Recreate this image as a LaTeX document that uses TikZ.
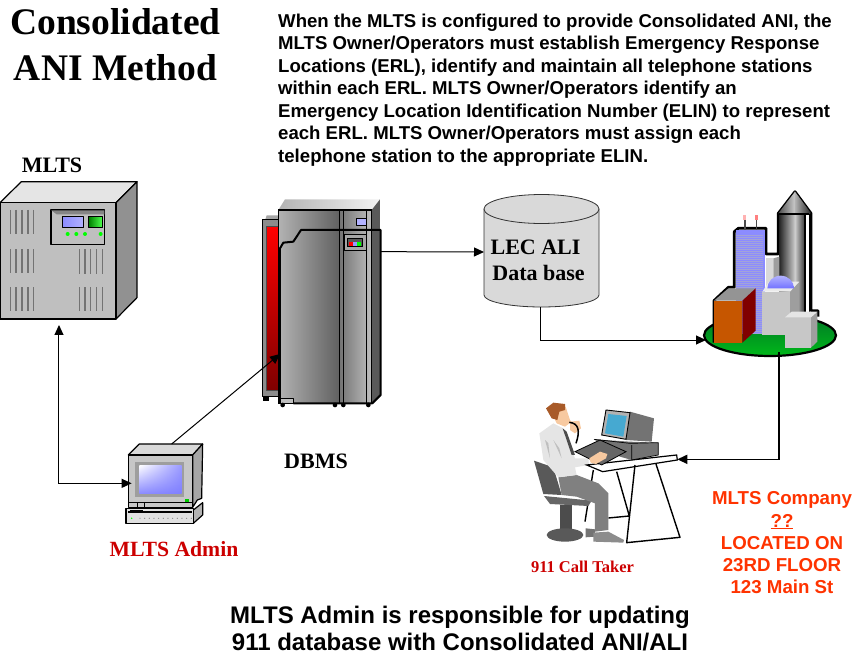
\documentclass[tikz,border=0pt]{standalone}
\usepackage{fontspec}
\setmainfont{Liberation Serif}
\setsansfont{Liberation Sans}
\usetikzlibrary{arrows.meta,shadings}
\definecolor{orangered}{HTML}{FF3300}
\definecolor{admred}{HTML}{CC0000}
\definecolor{skin}{HTML}{F7C9A0}
\definecolor{hair}{HTML}{A85A28}
\tikzset{
  x=1pt,y=-1pt,
  conn/.style={draw=black,line width=1pt},
  tip/.style={-{Triangle[length=10pt,width=9pt]}},
  dbl/.style={{Triangle[length=10pt,width=9pt]}-{Triangle[length=10pt,width=9pt]}},
  serifb/.style={font=\rmfamily\bfseries\fontsize{#1}{#1}\selectfont,inner sep=0pt},
  ol/.style={draw=black,line width=1.2pt,line join=round},
  zoomA/.style={shift={(0,150)},x=0.3333pt,y=-0.3333pt},
  zoomB/.style={shift={(240,190)},x=0.3333pt,y=-0.3333pt},
  zoomC/.style={shift={(690,180)},x=0.3333pt,y=-0.3333pt},
  zoomD/.style={shift={(520,390)},x=0.3333pt,y=-0.3333pt},
  zoomE/.style={shift={(110,430)},x=0.3333pt,y=-0.3333pt},
  vent/.style={draw=black!55,line width=1.3pt},
  gr/.style={draw=black,line width=0.8pt,line join=round},
}
\begin{document}
\begin{tikzpicture}
\useasboundingbox (0,0) rectangle (854,656);
% ===== texts
\node[serifb=37.5,anchor=base,align=center] (title) at (115.5,34) {Consolidated};
\node[serifb=37.5,anchor=base,align=center] (title2) at (115.5,80) {ANI Method};
\node[anchor=north west,inner sep=0pt,align=left,font=\sffamily\bfseries\fontsize{18.6}{22.5}\selectfont] (para) at (278,13.5)
{When the MLTS is configured to provide Consolidated ANI, the\\
MLTS Owner/Operators must establish Emergency Response\\
Locations (ERL), identify and maintain all telephone stations\\
within each ERL. MLTS Owner/Operators identify an\\
Emergency Location Identification Number (ELIN) to represent\\
each ERL. MLTS Owner/Operators must assign each\\
telephone station to the appropriate ELIN.};
\node[serifb=22,anchor=base] (mltsl) at (52,172.5) {MLTS};
\node[serifb=22,anchor=base] (dbmsl) at (316,468.5) {DBMS};
\node[serifb=21.7,anchor=base,text=admred] (adml) at (174,556.5) {MLTS Admin};
\node[serifb=16.5,anchor=base,text=admred] (takerl) at (582.5,572) {911 Call Taker};
\node[anchor=north,inner sep=0pt,align=center,text=orangered,font=\sffamily\bfseries\fontsize{18.7}{22.3}\selectfont] (company) at (782,491.5)
{MLTS Company\\ \underline{??}\\ LOCATED ON\\ 23RD FLOOR\\ 123 Main St};
\node[anchor=north,inner sep=0pt,align=center,font=\sffamily\bfseries\fontsize{24}{27}\selectfont] (bottom) at (460,606)
{MLTS Admin is responsible for updating\\ 911 database with Consolidated ANI/ALI};

% ===== MLTS server
\begin{scope}[zoomA]
\filldraw[ol,fill=black!10] (0,158)--(64,95)--(411,95)--(348,158)--cycle;
\filldraw[ol,fill=black!43] (348,158)--(411,95)--(411,443)--(348,507)--cycle;
\filldraw[ol,fill=black!25] (0,158) rectangle (348,507);
\foreach \x in {32,48,66,84,100}{
  \draw[vent] (\x,180)--(\x,252);
  \draw[vent] (\x,298)--(\x,370);
  \draw[vent] (\x,412)--(\x,482);}
\foreach \x in {238,255,272,290,308}{
  \draw[vent] (\x,298)--(\x,372);
  \draw[vent] (\x,412)--(\x,482);}
\filldraw[ol,fill=black!25] (153,180) rectangle (314,284);
\fill[black!48] (154,181)--(313,181)--(313,193)--(170,193)--cycle;
\shade[left color=blue!45!white,right color=white!70!blue] (187,200) rectangle (251,232);
\draw[gr] (187,200) rectangle (251,232);
\shade[left color=green!50!black,right color=green!70!white] (266,200) rectangle (306,232);
\draw[gr] (266,200) rectangle (306,232);
\foreach \x in {203,229,255,302} \fill[green] (\x,252) circle (6);
\coordinate (mltsS) at (177,525);
\end{scope}

% ===== DBMS
\begin{scope}[zoomB]
\shade[left color=black!30,right color=black!5] (115,60)--(135,28)--(420,28)--(395,60)--cycle;
\fill[black!35] (76,88)--(80,76)--(115,76)--(115,88)--cycle;
\fill[black] (70,620) rectangle (87,632);
\filldraw[gr,fill=black!45] (66,88) rectangle (115,620);
\shade[top color=red,bottom color=red!50!black] (78,110) rectangle (115,600);
\draw[gr,draw=black!70] (78,110) rectangle (115,600);
\fill[black!65] (395,60)--(420,28)--(420,615)--(395,640)--cycle;
\shade[left color=black!30,right color=black!62] (115,60) rectangle (298,640);
\shade[left color=black!55,right color=black!25] (298,60) rectangle (395,640);
\draw[line width=1.1pt] (115,60)--(395,60)--(395,640)--(115,640)--cycle;
\filldraw[gr,fill=black!25] (115,626)--(160,626)--(160,640)--(115,640)--cycle;
\draw[line width=1pt] (298,60)--(298,640) (312,60)--(312,640) (380,60)--(380,640);
\filldraw[gr,fill=blue!30!white] (350,85) rectangle (378,107);
\draw[line width=2pt,line join=round] (120,640)--(120,175)--(130,158)--(160,155)--(183,120)--(422,120)--(422,615)--(397,640)--(160,640);
\filldraw[gr,fill=black!35] (312,133) rectangle (378,181);
\filldraw[gr,fill=black!65] (322,145) rectangle (368,170);
\fill[red] (328,155) rectangle (339,167);
\fill[blue!40!white] (339,155) rectangle (351,167);
\fill[green] (351,155) rectangle (363,167);
\foreach \x in {128,285,310,385} \fill[black] (\x,645) circle (7);
\coordinate (dbmsW) at (120,492);
\coordinate (dbmsE) at (422,185);
\end{scope}

% ===== database cylinder
\filldraw[gr,fill=black!15,draw=black!80] (484,209)--(484,295) arc[start angle=180,end angle=0,x radius=57.5,y radius=12]--(599,209)--cycle;
\filldraw[gr,fill=black!15,draw=black!80] (541.5,209) ellipse[x radius=57.5,y radius=14.5];
\coordinate (dbW) at (484,252);
\coordinate (dbS) at (540,307);
\node[serifb=22,anchor=base] (lec) at (535.5,254) {LEC ALI};
\node[serifb=22,anchor=base] (dbase) at (538.5,280) {Data base};

% ===== City
\begin{scope}[zoomC]
\shade[top color=green!55!black!85!blue,bottom color=green!80!black!90!blue] (240,466) ellipse[x radius=198,y radius=62];
\draw[line width=2.2pt] (240,466) ellipse[x radius=198,y radius=62];
\draw[line width=2.8pt,line join=round] (72,488)--(72,362)--(115,322)--(133,322)--(133,155)--(145,145)--(228,145)--(228,222)--(265,222)--(265,100)--(315,35)--(363,100)--(363,392)--(384,392)--(384,410);
\shade[left color=black!70,right color=black!20] (265,100)--(315,35)--(315,100)--cycle;
\shade[left color=black!30,right color=black!85] (315,100)--(315,35)--(363,100)--cycle;
\shade[left color=black!85,right color=black!20] (268,102) rectangle (315,400);
\shade[left color=black!20,right color=black!80] (315,102) rectangle (345,400);
\fill[white] (345,102) rectangle (358,400);
\draw[line width=1.5pt] (358,102)--(358,400) (268,102)--(358,102) (345,102)--(345,400);
\fill[blue!45!white] (137,150) rectangle (225,460);
\foreach \y in {165,171,...,460} \draw[blue!30!white!70!gray,line width=0.6pt] (137,\y)--(218,\y);
\draw[line width=1.2pt,black!70] (165,150)--(165,120);
\draw[line width=1.2pt,black!70] (199,150)--(199,120);
\fill[red!30!white] (160,105) rectangle (169,120);
\fill[red!50!white] (195,105) rectangle (204,120);
\fill[black!15] (228,235) rectangle (250,330);
\fill[black!38] (250,235)--(268,230)--(268,305)--(250,330)--cycle;
% orange block
\fill[black!42] (72,362)--(115,325)--(197,325)--(157,362)--cycle;
\fill[orange!75!black!90!red] (72,362) rectangle (157,488);
\fill[red!50!black] (157,362)--(197,325)--(197,452)--(157,488)--cycle;
% mid block
\fill[black!38] (300,335)--(328,305)--(328,430)--(300,465)--cycle;
\fill[black!22] (217,335) rectangle (300,465);
\fill[black!8] (217,335)--(237,305)--(328,305)--(300,335)--cycle;
\shade[top color=blue!30!white,bottom color=blue!55!white] (232,325) arc[start angle=180,end angle=360,x radius=40,y radius=38]--cycle;
% front block
\fill[black!38] (363,412)--(382,395)--(382,485)--(363,503)--cycle;
\fill[black!22] (285,412) rectangle (363,503);
\fill[black!10] (285,412)--(305,395)--(382,395)--(363,412)--cycle;
\end{scope}
\coordinate (cityW) at (706,340);
\coordinate (cityS) at (779,352);

% ===== Call taker
\begin{scope}[zoomD]
% table legs back
\draw[line width=1.4pt] (220,240)--(195,395) (290,245)--(328,378) (265,384)--(328,378);
% chair
\fill[black!65] (42,212)--(100,232)--(125,315)--(70,312)--cycle;
\fill[black!70] (120,345) rectangle (155,430);
\fill[black!65] (135,435) ellipse[x radius=55,y radius=20];
\fill[black!60] (72,318)--(215,332)--(205,348)--(90,342)--cycle;
% legs
\fill[black!50] (115,262)--(170,255)--(235,280)--(265,310)--(265,420)--(225,425)--(225,340)--(170,320)--(125,315)--cycle;
\fill[black!55] (197,415)--(225,418)--(225,440)--(197,442)--cycle;
\fill[black!45] (220,428)--(265,425)--(312,450)--(310,458)--(220,455)--cycle;
% shirt
\fill[black!10] (58,130)--(100,100)--(130,115)--(165,205)--(205,205)--(207,225)--(165,232)--(170,255)--(115,262)--(70,210)--cycle;
\fill[black!25] (100,150)--(125,205)--(118,175)--cycle;
\fill[black!25] (75,150)--(90,205)--(85,160)--cycle;
\fill[black!70] (128,115)--(140,125)--(165,195)--(155,195)--cycle;
% head
\fill[skin] (112,55)--(137,50)--(150,90)--(155,95)--(135,110)--(110,100)--(105,90)--cycle;
\fill[hair] (78,55)--(100,38)--(135,42)--(135,60)--(118,65)--(112,90)--(95,85)--cycle;
% hand + phone
\fill[skin] (150,95)--(178,92)--(183,115)--(165,130)--(150,120)--cycle;
\draw[line width=1.5pt] (148,97)..controls (178,100) and (180,125) .. (168,160);
% table
\filldraw[line width=1.2pt,fill=white] (200,225)--(470,195)--(472,210)--(248,245)--cycle;
\draw[line width=1.4pt,line join=round] (345,225)--(320,458)--(480,442)--(408,222);
% computer
\fill[black!55] (330,65)--(402,85)--(395,155)--(318,150)--cycle;
\fill[black!55] (222,148)--(330,155)--(415,158)--(415,195)--(335,210)--(300,200)--cycle;
\draw[line width=0.7pt] (222,148)--(330,160)--(415,158)--(415,195)--(335,210)--(335,165);
\filldraw[line width=0.9pt,fill=black!30] (245,135)--(258,60)--(330,68)--(318,148)--cycle;
\fill[cyan!80!black!85!white] (255,130)--(265,72)--(320,78)--(310,140)--cycle;
% keyboard
\filldraw[line width=0.8pt,fill=black!60] (165,185)--(240,150)--(318,185)--(245,225)--cycle;
% hand
\fill[skin] (208,205)--(240,185)--(262,192)--(258,205)--(228,222)--(212,218)--cycle;
\coordinate (takerE) at (472,208);
\end{scope}

% ===== MLTS Admin terminal
\begin{scope}[zoomE]
\filldraw[ol,fill=black!15] (55,75)--(88,42)--(278,42)--(248,75)--cycle;
\filldraw[ol,fill=black!35] (248,75)--(278,42)--(275,205)--(262,210)--(248,232)--cycle;
\filldraw[ol,fill=black!22] (55,75) rectangle (248,232);
\fill[black!38] (75,95) rectangle (222,200);
\shade[lower left=blue!45!white,upper left=white,upper right=blue!40!white,lower right=blue!50!white] (88,105) rectangle (215,190);
\fill[green!80!black] (225,208) rectangle (238,216);
\draw[line width=1pt] (82,218)--(82,232) (105,218)--(105,232) (55,218)--(248,218);
\filldraw[ol,fill=black!30] (250,240)--(278,218)--(278,255)--(250,280)--cycle;
\filldraw[ol,fill=black!12] (48,235)--(250,235)--(250,280)--(48,280)--cycle;
\draw[line width=2pt] (55,247)--(245,247);
\fill[black] (60,240) rectangle (100,247);
\foreach \x in {90,104,...,244} \fill[black!45] (\x,265) circle (2);
\fill[green] (65,265) circle (2.5);
\coordinate (admW) at (65,160);
\coordinate (admN) at (185,42);
\end{scope}

% ===== connectors
\coordinate (j1) at (mltsS |- admW);
\draw[conn,dbl] (mltsS) -- (j1) -- (admW);
\draw[conn,tip] (admN) -- (dbmsW);
\draw[conn,tip] (dbmsE) -- (dbW);
\coordinate (j2) at (dbS |- cityW);
\draw[conn,tip] (dbS) -- (j2) -- (cityW);
\coordinate (j3) at (cityS |- takerE);
\draw[conn,line width=1.5pt,tip] (cityS) -- (j3) -- (takerE);
\end{tikzpicture}
\end{document}
